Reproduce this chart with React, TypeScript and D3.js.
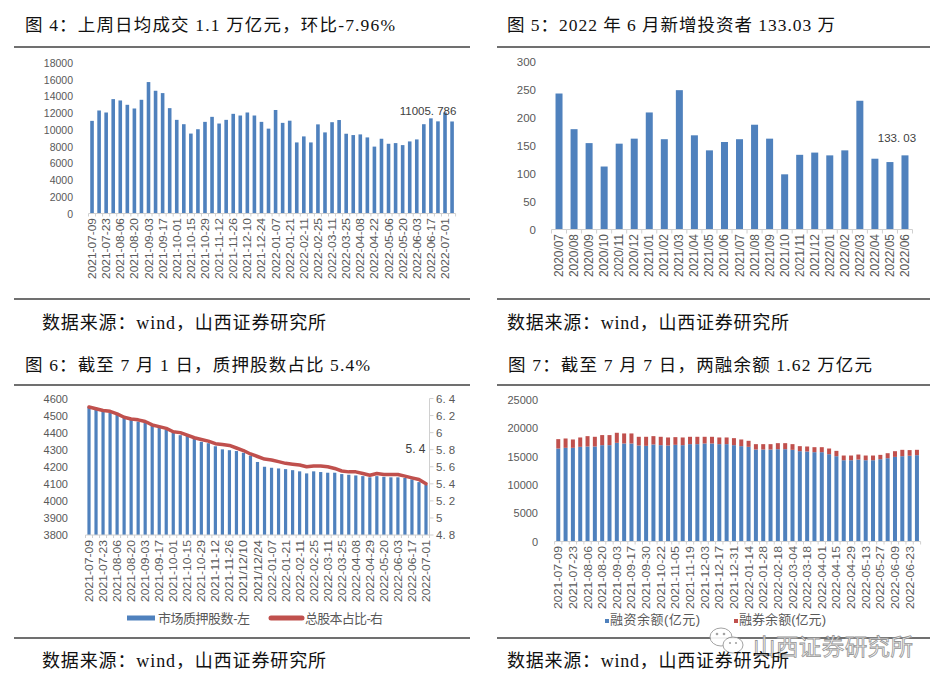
import React from 'react';
import * as d3 from 'd3';

// ---------- Figure 4: weekly average turnover (亿元) ----------
const volDates = [
  '2021-07-09','2021-07-16','2021-07-23','2021-07-30','2021-08-06','2021-08-13','2021-08-20','2021-08-27',
  '2021-09-03','2021-09-10','2021-09-17','2021-09-24','2021-10-01','2021-10-08','2021-10-15','2021-10-22',
  '2021-10-29','2021-11-05','2021-11-12','2021-11-19','2021-11-26','2021-12-03','2021-12-10','2021-12-17',
  '2021-12-24','2021-12-31','2022-01-07','2022-01-14','2022-01-21','2022-01-28','2022-02-11','2022-02-18',
  '2022-02-25','2022-03-04','2022-03-11','2022-03-18','2022-03-25','2022-04-01','2022-04-08','2022-04-15',
  '2022-04-22','2022-04-29','2022-05-06','2022-05-13','2022-05-20','2022-05-27','2022-06-03','2022-06-10',
  '2022-06-17','2022-06-24','2022-07-01','2022-07-08'];
const volValues = [
  11080,12320,12080,13680,13520,13000,12560,13600,15720,14680,
  14400,12600,11200,10680,9560,10080,10960,11560,10760,11200,
  11920,11720,12080,11720,10960,10150,12380,10840,11100,8500,
  9220,8500,10660,9700,10920,11180,9540,9380,9460,9100,
  8000,8940,8340,8420,8180,8620,8860,10680,11380,11020,
  12080,11005.786];
const volTicks = [0,2000,4000,6000,8000,10000,12000,14000,16000,18000];
const volLabel = '11005. 786';

// ---------- Figure 5: new investors (万) ----------
const invMonths = ['2020/07','2020/08','2020/09','2020/10','2020/11','2020/12','2021/01','2021/02','2021/03',
  '2021/04','2021/05','2021/06','2021/07','2021/08','2021/09','2021/10','2021/11','2021/12','2022/01',
  '2022/02','2022/03','2022/04','2022/05','2022/06'];
const invValues = [244,180,155,113,154,163,210,162,250,169,142,157,162,188,163,99,134,138,133,142,231,127,121,133.03];
const invTicks = [0,50,100,150,200,250,300];
const invLabel = '133. 03';

// ---------- Figure 6: pledged shares ----------
const pledgeDates = [
  '2021-07-09','2021-07-16','2021-07-23','2021-07-30','2021-08-06','2021-08-13','2021-08-20','2021-08-27',
  '2021-09-03','2021-09-10','2021-09-17','2021-09-24','2021-10-01','2021-10-08','2021-10-15','2021-10-22',
  '2021-10-29','2021-11-05','2021-11-12','2021-11-19','2021-11-26','2021-12-03','2021/12/10','2021/12/17',
  '2021/12/24','2021/12/31','2022-01-07','2022-01-14','2022-01-21','2022-01-28','2022-02-11','2022-02-18',
  '2022-02-25','2022-03-04','2022-03-11','2022-03-18','2022-03-25','2022-04-01','2022-04-08','2022-04-22',
  '2022-04-29','2022-05-13','2022-05-20','2022-05-27','2022-06-03','2022-06-10','2022-06-17','2022-06-24',
  '2022-07-01'];
const pledgeShares = [
  4550,4545,4525,4518,4510,4488,4477,4465,4460,4447,
  4428,4418,4405,4385,4383,4363,4346,4338,4320,4302,
  4297,4292,4282,4265,4228,4200,4194,4190,4186,4180,
  4173,4161,4173,4169,4165,4165,4157,4153,4149,4145,
  4138,4145,4141,4138,4138,4134,4126,4110,4093];
const pledgeRatio = [
  6.30,6.28,6.26,6.25,6.22,6.18,6.16,6.15,6.13,6.09,
  6.07,6.05,6.01,6.00,5.97,5.94,5.92,5.90,5.87,5.86,
  5.85,5.82,5.79,5.75,5.72,5.69,5.68,5.66,5.64,5.63,
  5.62,5.60,5.61,5.61,5.60,5.58,5.55,5.54,5.54,5.52,
  5.50,5.52,5.51,5.51,5.51,5.49,5.47,5.45,5.40];
const pledgeLeftTicks = [3800,3900,4000,4100,4200,4300,4400,4500,4600];
const pledgeRightTicks = [4.8,5.0,5.2,5.4,5.6,5.8,6.0,6.2,6.4];
const pledgeLabel = '5. 4';
const pledgeLegend = ['市场质押股数-左','总股本占比-右'];

// ---------- Figure 7: margin balance (亿元) ----------
const marginDates = [
  '2021-07-09','2021-07-16','2021-07-23','2021-07-30','2021-08-06','2021-08-13','2021-08-20','2021-08-27',
  '2021-09-03','2021-09-10','2021-09-17','2021-09-24','2021-09-30','2021-10-15','2021-10-22','2021-10-29',
  '2021-11-05','2021-11-12','2021-11-19','2021-11-26','2021-12-03','2021-12-10','2021-12-17','2021-12-24',
  '2021-12-31','2022-01-07','2022-01-14','2022-01-21','2022-01-28','2022-02-11','2022-02-18','2022-02-25',
  '2022-03-04','2022-03-11','2022-03-18','2022-03-25','2022-04-01','2022-04-08','2022-04-15','2022-04-22',
  '2022-04-29','2022-05-06','2022-05-13','2022-05-20','2022-05-27','2022-06-02','2022-06-09','2022-06-16',
  '2022-06-23','2022-06-30'];
const financeBal = [
  16430,16550,16550,16725,16785,16785,17020,17020,17435,17315,
  17315,16960,16900,17140,17020,16960,17080,17020,17200,17200,
  17315,17315,17200,17200,17020,16845,16725,16255,16255,16255,
  16310,16310,16195,15955,15900,15780,15780,15425,15070,14360,
  14360,14480,14360,14360,14540,14715,14950,15070,15150,15250];
const shortBal = [
  1655,1650,1475,1655,1830,1715,1780,1780,1775,1775,
  1775,1540,1600,1475,1480,1420,1360,1360,1300,1300,
  1185,1185,1180,1180,1240,1180,1065,945,945,945,
  1065,1065,1005,890,885,885,885,1005,945,830,
  830,885,830,830,765,885,1005,1125,1000,950];
const marginTicks = [0,5000,10000,15000,20000,25000];
const marginLegend = ['融资余额(亿元)','融券余额(亿元)'];

// ---------- texts ----------
const titles = [
  '图 4：上周日均成交 1.1 万亿元，环比-7.96%',
  '图 5：2022 年 6 月新增投资者 133.03 万',
  '图 6：截至 7 月 1 日，质押股数占比 5.4%',
  '图 7：截至 7 月 7 日，两融余额 1.62 万亿元'];
const sourceText = '数据来源：wind，山西证券研究所';
const watermark = '山西证券研究所';

const BLUE = '#4F81BD';
const RED = '#C0504D';
const AX = '#d0d0d0';
const LBL = '#595959';
const NUMF = "'Liberation Sans', Arial, sans-serif";
const DOCF = "'Liberation Serif', 'Noto Sans CJK SC', serif";
const LEGF = "'Liberation Sans', 'Noto Sans CJK SC', sans-serif";

function YLabels({ scale, ticks, x, anchor = 'end', size = 11, fmt = (v: number) => String(v) }: any) {
  return (
    <g>
      {ticks.map((t: number) => (
        <text key={t} x={x} y={scale(t)} textAnchor={anchor} dominantBaseline="central"
          fontSize={size} fill={LBL} fontFamily={NUMF}>{fmt(t)}</text>
      ))}
    </g>
  );
}

function BandAxis({ scale, cats, y, labelTop, size = 11, every = 2, tick = 4, labelLen }: any) {
  const [r0, r1] = scale.range();
  const step = scale.step();
  const n = cats.length;
  return (
    <g>
      <line x1={r0} x2={r1} y1={y} y2={y} stroke={AX} strokeWidth={1} />
      {d3.range(n + 1).map((i) => (
        <line key={'t' + i} x1={r0 + i * step} x2={r0 + i * step} y1={y} y2={y + tick} stroke={AX} strokeWidth={1} />
      ))}
      {cats.map((c: string, i: number) => i % every === 0 ? (
        <text key={c} transform={`translate(${scale(c) + scale.bandwidth() / 2},${labelTop}) rotate(-90)`}
          textAnchor="end" dominantBaseline="central" fontSize={size} fill={LBL} fontFamily={NUMF}
          textLength={labelLen} lengthAdjust="spacingAndGlyphs">{c}</text>
      ) : null)}
    </g>
  );
}

function DocText({ text, x, cy, w, size }: any) {
  return (
    <text x={x} y={cy} dominantBaseline="central" fontSize={size} fill="#111" fontFamily={DOCF}
      textLength={w} lengthAdjust="spacing">{text}</text>
  );
}

function Fig4() {
  const x = d3.scaleBand<string>().domain(volDates).range([88.5, 455.6]).padding(0);
  const y = d3.scaleLinear().domain([0, 18000]).range([213.5, 63]);
  const bw = 3.6;
  const last = volDates.length - 1;
  return (
    <g>
      <YLabels scale={y} ticks={volTicks} x={73} size={10.5} />
      {volDates.map((d, i) => (
        <rect key={d} x={x(d)! + x.bandwidth() / 2 - bw / 2} y={y(volValues[i])} width={bw}
          height={y(0) - y(volValues[i])} fill={BLUE} />
      ))}
      <BandAxis scale={x} cats={volDates} y={y(0)} labelTop={218} size={11} tick={3} labelLen={61} />
      <text x={x(volDates[last])! + x.bandwidth() / 2 - 24} y={111} textAnchor="middle" dominantBaseline="central"
        fontSize={11.5} fill="#404040" fontFamily={NUMF}>{volLabel}</text>
    </g>
  );
}

function Fig5() {
  const x = d3.scaleBand<string>().domain(invMonths).range([551.5, 912.5]).padding(0);
  const y = d3.scaleLinear().domain([0, 300]).range([229.5, 62.3]);
  const bw = 7;
  const last = invMonths.length - 1;
  return (
    <g>
      <YLabels scale={y} ticks={invTicks} x={536} size={11.5} />
      {invMonths.map((d, i) => (
        <rect key={d} x={x(d)! + x.bandwidth() / 2 - bw / 2} y={y(invValues[i])} width={bw}
          height={y(0) - y(invValues[i])} fill={BLUE} />
      ))}
      <BandAxis scale={x} cats={invMonths} y={y(0)} labelTop={234} size={12} every={1} tick={4} labelLen={43} />
      <text x={x(invMonths[last])! + x.bandwidth() / 2 - 8} y={y(invValues[last]) - 17} textAnchor="middle"
        dominantBaseline="central" fontSize={11.5} fill="#404040" fontFamily={NUMF}>{invLabel}</text>
    </g>
  );
}

function Fig6() {
  const x = d3.scaleBand<string>().domain(pledgeDates).range([85.5, 429.5]).padding(0);
  const yl = d3.scaleLinear().domain([3800, 4600]).range([535, 398.5]);
  const yr = d3.scaleLinear().domain([4.8, 6.4]).range([535, 398.5]);
  const bw = 3.2;
  const cx = (d: string) => x(d)! + x.bandwidth() / 2;
  const line = d3.line<number>().x((_, i) => cx(pledgeDates[i])).y((v) => yr(v));
  const axisX = 429.5;
  const fmtR = (v: number) => d3.format('~g')(+v.toFixed(1)).replace('.', '. ');
  return (
    <g>
      <YLabels scale={yl} ticks={pledgeLeftTicks} x={68} size={11} />
      {pledgeDates.map((d, i) => (
        <rect key={d} x={cx(d) - bw / 2} y={yl(pledgeShares[i])} width={bw}
          height={yl(3800) - yl(pledgeShares[i])} fill={BLUE} />
      ))}
      <BandAxis scale={x} cats={pledgeDates} y={535} labelTop={540} size={11} tick={3} labelLen={62} />
      <path d={line(pledgeRatio)!} fill="none" stroke={RED} strokeWidth={3.5} strokeLinejoin="round" strokeLinecap="round" />
      <line x1={axisX} x2={axisX} y1={yr(6.4)} y2={yr(4.8)} stroke={AX} strokeWidth={1} />
      {pledgeRightTicks.map((t) => (
        <line key={t} x1={axisX} x2={axisX + 4} y1={yr(t)} y2={yr(t)} stroke={AX} strokeWidth={1} />
      ))}
      <YLabels scale={yr} ticks={pledgeRightTicks} x={436} anchor="start" size={11.5} fmt={fmtR} />
      <text x={415.5} y={448.5} textAnchor="middle" dominantBaseline="central" fontSize={12}
        fill="#404040" fontFamily={NUMF}>{pledgeLabel}</text>
      <line x1={127} x2={155} y1={618} y2={618} stroke={BLUE} strokeWidth={5} />
      <text x={158} y={618} dominantBaseline="central" fontSize={13} fill={LBL} fontFamily={LEGF}
        textLength={92} lengthAdjust="spacing">{pledgeLegend[0]}</text>
      <line x1={271} x2={302} y1={618} y2={618} stroke={RED} strokeWidth={5} strokeLinecap="round" />
      <text x={305} y={618} dominantBaseline="central" fontSize={13} fill={LBL} fontFamily={LEGF}
        textLength={78} lengthAdjust="spacing">{pledgeLegend[1]}</text>
    </g>
  );
}

function Fig7() {
  const x = d3.scaleBand<string>().domain(marginDates).range([554.6, 920.6]).padding(0);
  const y = d3.scaleLinear().domain([0, 25000]).range([541.5, 400]);
  const bw = 4;
  const cx = (d: string) => x(d)! + x.bandwidth() / 2;
  const stack = marginDates.map((d, i) => ({ d, a: financeBal[i], b: shortBal[i] }));
  return (
    <g>
      <YLabels scale={y} ticks={marginTicks} x={538} size={11} />
      {stack.map((s) => (
        <g key={s.d}>
          <rect x={cx(s.d) - bw / 2} y={y(s.a)} width={bw} height={y(0) - y(s.a)} fill={BLUE} />
          <rect x={cx(s.d) - bw / 2} y={y(s.a + s.b)} width={bw} height={y(s.a) - y(s.a + s.b)} fill={RED} />
        </g>
      ))}
      <BandAxis scale={x} cats={marginDates} y={y(0)} labelTop={546} size={11} tick={3} labelLen={63} />
      <rect x={605} y={619} width={4} height={4} fill={BLUE} />
      <text x={610} y={619} dominantBaseline="central" fontSize={13} fill={LBL} fontFamily={LEGF}
        textLength={90} lengthAdjust="spacing">{marginLegend[0]}</text>
      <rect x={734} y={619} width={4} height={4} fill={RED} />
      <text x={739} y={619} dominantBaseline="central" fontSize={13} fill={LBL} fontFamily={LEGF}
        textLength={87} lengthAdjust="spacing">{marginLegend[1]}</text>
    </g>
  );
}

function Rules() {
  const ys = [47, 299, 385, 638];
  return (
    <g>
      {ys.map((yy) => (
        <g key={yy}>
          <line x1={14} x2={470} y1={yy} y2={yy} stroke="#404040" strokeWidth={1.5} />
          <line x1={497} x2={930} y1={yy} y2={yy} stroke="#404040" strokeWidth={1.5} />
        </g>
      ))}
    </g>
  );
}

function Watermark() {
  return (
    <g opacity={0.9}>
      <ellipse cx={721} cy={637} rx={11} ry={9} fill="#fff" stroke="#9a9a9a" strokeWidth={1} />
      <ellipse cx={733} cy={645} rx={10} ry={8} fill="#fff" stroke="#9a9a9a" strokeWidth={1} />
      <circle cx={717} cy={634} r={1.3} fill="#9a9a9a" />
      <circle cx={724} cy={634} r={1.3} fill="#9a9a9a" />
      <circle cx={730} cy={643} r={1.1} fill="#9a9a9a" />
      <circle cx={736} cy={643} r={1.1} fill="#9a9a9a" />
      <text x={753} y={645} dominantBaseline="central" fontSize={22.5} fill="#fafafa" stroke="#8a8a8a"
        strokeWidth={0.8} fontFamily="'Noto Sans CJK SC', sans-serif" textLength={160} lengthAdjust="spacing">{watermark}</text>
    </g>
  );
}

export default function App() {
  return (
    <svg width={943} height={687} style={{ position: 'absolute', left: 0, top: 0, background: '#fff' }}>
      <rect x={0} y={0} width={943} height={687} fill="#fff" />
      <DocText text={titles[0]} x={25} cy={25} w={370} size={17.5} />
      <DocText text={titles[1]} x={507} cy={25} w={328} size={17.5} />
      <Rules />
      <Fig4 />
      <Fig5 />
      <DocText text={sourceText} x={42} cy={323} w={284} size={18} />
      <DocText text={sourceText} x={507} cy={323} w={282} size={18} />
      <DocText text={titles[2]} x={25} cy={365} w={345} size={17.5} />
      <DocText text={titles[3]} x={508} cy={365} w={364} size={17.5} />
      <Fig6 />
      <Fig7 />
      <Watermark />
      <DocText text={sourceText} x={42} cy={661} w={284} size={18} />
      <DocText text={sourceText} x={507} cy={661} w={282} size={18} />
    </svg>
  );
}
